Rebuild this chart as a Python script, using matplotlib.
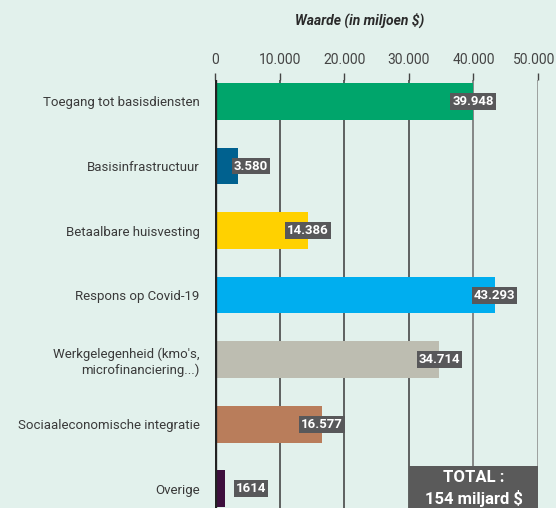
import matplotlib.pyplot as plt
import matplotlib.transforms as mtransforms
import numpy as np

plt.rcParams['font.family'] = ['Roboto', 'DejaVu Sans']

categories = [
    'Toegang tot basisdiensten',
    'Basisinfrastructuur',
    'Betaalbare huisvesting',
    'Respons op Covid-19',
    "Werkgelegenheid (kmo's,\nmicrofinanciering...)",
    'Sociaaleconomische integratie',
    'Overige',
]
values = [39948, 3580, 14386, 43293, 34714, 16577, 1614]
value_labels = ['39.948', '3.580', '14.386', '43.293', '34.714', '16.577', '1614']
colors = ['#00A56B', '#00618F', '#FFD100', '#00AEEF', '#BDBDB1', '#B97D5B', '#3D0F3D']
ticks = [0, 10000, 20000, 30000, 40000, 50000]
tick_labels = ['0', '10.000', '20.000', '30.000', '40.000', '50.000']
grid_colors = ['#3A3A3A', '#3A3A3A', '#3A3A3A', '#6A6A6A', '#8A8A8A']

bg = '#E2F1EC'
W, H = 556, 508
fig = plt.figure(figsize=(W / 100, H / 100), dpi=100, facecolor=bg)

left, right, top, bottom = 215, 538, 80, 508
ax = fig.add_axes([left / W, 1 - bottom / H, (right - left) / W, (bottom - top) / H])
ax.set_facecolor(bg)

y = np.arange(len(categories))
ax.barh(y, values, height=0.57, color=colors, zorder=3)
ax.set_xlim(0, 50000)
ax.set_ylim(6.30, -0.333)

for s in ax.spines.values():
    s.set_visible(False)

for t, c in zip(ticks[1:], grid_colors):
    ax.axvline(t, color=c, lw=1.1, zorder=1)
ax.axvline(0, color='#222222', lw=2.4, zorder=4)

ax.xaxis.tick_top()
ax.set_xticks(ticks)
ax.set_xticklabels(tick_labels)
ax.tick_params(axis='x', length=5, width=1, color='#444444', labelsize=10, labelcolor='#444444', pad=4)
# laatste label net binnen de rand houden
last = ax.get_xticklabels()[-1]
last.set_transform(last.get_transform() + mtransforms.ScaledTranslation(-4 / 100, 0, fig.dpi_scale_trans))

ax.set_yticks(y)
ax.set_yticklabels(categories)
ax.tick_params(axis='y', length=0, labelsize=9.5, labelcolor='#3A3A3A', pad=11)
for lab in ax.get_yticklabels():
    lab.set_multialignment('right')

for yi, v, lab in zip(y, values, value_labels):
    ax.text(max(v, 5600), yi, lab, ha='center', va='center', color='white', fontsize=9.5,
            fontweight='bold', zorder=5,
            bbox=dict(boxstyle='square,pad=0.15', fc='#58585A', ec='none'))

fig.text(360 / W, 1 - 20 / H, 'Waarde (in miljoen $)', ha='center', va='center',
         fontsize=10, style='italic', fontweight='bold', color='#2A2A2A')

# totaal-vak rechtsonder
box_ax = fig.add_axes([409 / W, 0, (538 - 409) / W, (508 - 466) / H])
box_ax.set_facecolor('#5A5A5A')
box_ax.set_xticks([])
box_ax.set_yticks([])
for s in box_ax.spines.values():
    s.set_visible(False)
box_ax.text(0.5, 0.72, 'TOTAL :', ha='center', va='center', color='white',
            fontsize=12, fontweight='bold', transform=box_ax.transAxes)
box_ax.text(0.5, 0.22, '154 miljard $', ha='center', va='center', color='white',
            fontsize=12, fontweight='bold', transform=box_ax.transAxes)

fig.savefig('out.png', dpi=100, facecolor=bg)
